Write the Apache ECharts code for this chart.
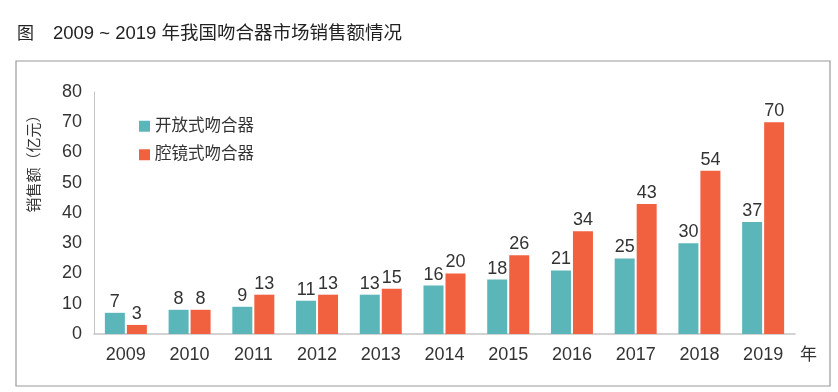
<!DOCTYPE html>
<html>
<head>
<meta charset="utf-8">
<script src="https://cdn.jsdelivr.net/npm/echarts@6/dist/echarts.min.js"></script>
<style>html,body{margin:0;padding:0;background:#fff;}#c{width:838px;height:392px;}</style>
</head>
<body>
<div id="c"></div>
<script>
const years = ['2009','2010','2011','2012','2013','2014','2015','2016','2017','2018','2019'];
const openStapler = [7, 8, 9, 11, 13, 16, 18, 21, 25, 30, 37];
const laparoStapler = [3, 8, 13, 13, 15, 20, 26, 34, 43, 54, 70];
const seriesNames = ['开放式吻合器', '腔镜式吻合器'];
const yTicks = { min: 0, max: 80, interval: 10 };

const FONT = '"Liberation Sans", "Noto Sans CJK SC", sans-serif';
const chart = echarts.init(document.getElementById('c'));
chart.setOption({
  animation: false,
  backgroundColor: '#fff',
  textStyle: { fontFamily: FONT },
  grid: { left: 94, right: 43, top: 92, bottom: 58 },
  legend: {
    orient: 'vertical', left: 134, top: 113, itemWidth: 11, itemHeight: 11, itemGap: 12,
    icon: 'rect',
    textStyle: { fontSize: 16.5, color: '#333', fontFamily: FONT },
    data: seriesNames
  },
  graphic: [
    { type: 'rect', shape: { x: 16, y: 61, width: 814, height: 325 }, style: { fill: 'none', stroke: '#9a9a9a', lineWidth: 1.2 } },
    { type: 'text', x: 17, y: 34, style: { text: '图', font: '17px ' + FONT, fill: '#222', verticalAlign: 'middle' } },
    { type: 'text', x: 53, y: 34, style: { text: '2009 ~ 2019 年我国吻合器市场销售额情况', font: '18.5px ' + FONT, fill: '#222', verticalAlign: 'middle' } },
    { type: 'text', x: 35, y: 160, rotation: Math.PI / 2, style: { text: '销售额（亿元）', font: '15px ' + FONT, fill: '#333', align: 'center', verticalAlign: 'middle' } }
  ],
  xAxis: {
    type: 'category', data: years,
    name: '年', nameLocation: 'end', nameGap: 5,
    nameTextStyle: { fontSize: 17, color: '#333', verticalAlign: 'top', padding: [13, 0, 0, 0] },
    axisLine: { lineStyle: { color: '#c4c4c4', width: 1.5 } },
    axisTick: { show: false },
    axisLabel: { fontSize: 18, color: '#333', margin: 12 }
  },
  yAxis: {
    type: 'value', min: yTicks.min, max: yTicks.max, interval: yTicks.interval,
    axisLine: { show: true, lineStyle: { color: '#c4c4c4', width: 1 } },
    axisTick: { show: false },
    splitLine: { show: false },
    axisLabel: { fontSize: 18, color: '#333', margin: 12 }
  },
  series: [
    {
      name: seriesNames[0], type: 'bar', data: openStapler, barWidth: 20, barGap: '10%',
      itemStyle: { color: '#5bb6ba' },
      label: { show: true, position: 'top', fontSize: 18, color: '#333', distance: 2 }
    },
    {
      name: seriesNames[1], type: 'bar', data: laparoStapler, barWidth: 20,
      itemStyle: { color: '#f2613f' },
      label: { show: true, position: 'top', fontSize: 18, color: '#333', distance: 2 }
    }
  ]
});
</script>
</body>
</html>
